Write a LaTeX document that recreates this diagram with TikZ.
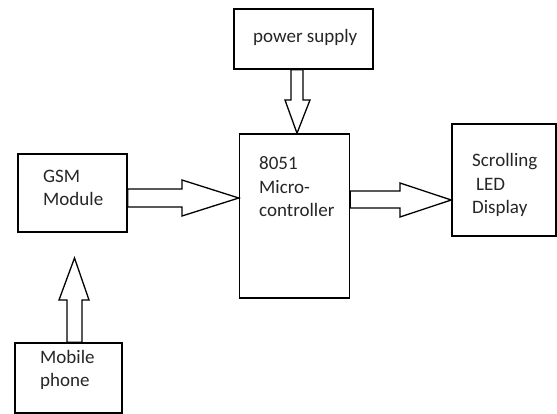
\documentclass[tikz,border=0pt]{standalone}
\usepackage{fontspec}
\setmainfont{Carlito}
\begin{document}
\begin{tikzpicture}[x=1pt,y=-1pt,
  box/.style={draw=black,line width=1.5pt,fill=white,inner sep=0pt},
  lbl/.style={inner sep=0pt,align=left,anchor=west,text=black!85,font=\fontsize{19}{23.5}\selectfont},
  blk/.style={draw=black,line width=1.3pt,fill=white,line join=miter}]
\useasboundingbox (0,0) rectangle (557,414);
% boxes
\node[box,minimum width=139pt,minimum height=60pt] (ps) at (303.5,39) {};
\node[box,minimum width=110pt,minimum height=164pt] (mcu) at (294.5,216) {};
\node[box,minimum width=109pt,minimum height=78pt] (gsm) at (72.5,193) {};
\node[box,minimum width=104pt,minimum height=112pt] (disp) at (504,180) {};
\node[box,minimum width=107pt,minimum height=70pt] (mob) at (68.5,378) {};
% labels
\node[lbl] (pslbl) at (253,37) {power supply};
\node[lbl] (mculbl) at (259,187) {8051\\Micro-\\controller};
\node[lbl] (gsmlbl) at (43,188) {GSM\\Module};
\node[lbl] (displbl) at (472,185) {Scrolling\\\hspace*{4pt}LED\\Display};
\node[lbl] (moblbl) at (40,370) {Mobile\\phone};
% block arrows
\coordinate (t1) at (mcu.west |- 0,198);
\draw[blk] (gsm.east |- 0,189) -- (182,189) -- (182,180) -- (t1) -- (182,216) -- (182,207) -- (gsm.east |- 0,207) -- cycle;
\coordinate (t2) at (297,0 |- mcu.north);
\draw[blk] (291,0 |- ps.south) -- (291,100) -- (285,100) -- (t2) -- (310,100) -- (303,100) -- (303,0 |- ps.south) -- cycle;
\coordinate (t3) at (disp.west |- 0,200);
\draw[blk] (mcu.east |- 0,191) -- (400,191) -- (400,183) -- (t3) -- (400,217) -- (400,208) -- (mcu.east |- 0,208) -- cycle;
\coordinate (t4) at (74.5,258);
\draw[blk] (67,0 |- mob.north) -- (67,300) -- (59,300) -- (t4) -- (89,300) -- (82,300) -- (82,0 |- mob.north) -- cycle;
\end{tikzpicture}
\end{document}
